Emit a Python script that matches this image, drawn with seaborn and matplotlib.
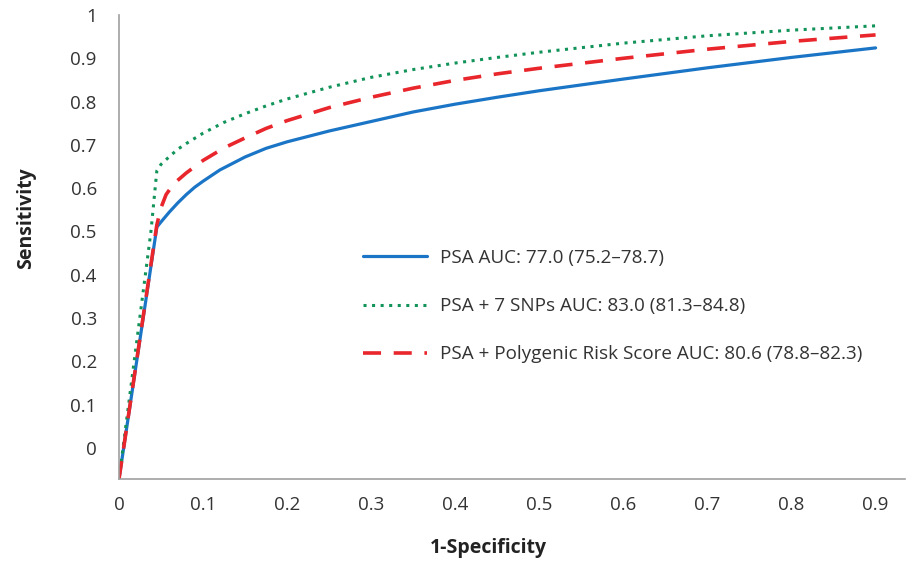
"""
ROC curves: PSA vs PSA + 7 SNPs vs PSA + Polygenic Risk Score
"""

import numpy as np
import pandas as pd
import matplotlib
matplotlib.use('Agg')
import matplotlib.pyplot as plt
import seaborn as sns

# ============================================================================
# DATA
# ============================================================================
psa_fpr = [0, 0.045, 0.05, 0.06, 0.07, 0.08, 0.09, 0.1, 0.12, 0.15, 0.175, 0.2, 0.25,
           0.3, 0.35, 0.4, 0.45, 0.5, 0.6, 0.7, 0.8, 0.9]
psa_tpr = [-0.072, 0.51, 0.522, 0.545, 0.566, 0.585, 0.602, 0.616, 0.642, 0.672, 0.692,
           0.707, 0.732, 0.754, 0.776, 0.794, 0.81, 0.825, 0.852, 0.878, 0.902, 0.924]

snp_fpr = [0, 0.038, 0.045, 0.05, 0.06, 0.07, 0.08, 0.1, 0.125, 0.15, 0.175, 0.2, 0.25,
           0.3, 0.35, 0.4, 0.45, 0.5, 0.6, 0.7, 0.8, 0.9]
snp_tpr = [-0.072, 0.50, 0.64, 0.655, 0.673, 0.69, 0.703, 0.727, 0.752, 0.772, 0.79,
           0.806, 0.833, 0.856, 0.874, 0.889, 0.902, 0.914, 0.935, 0.952, 0.965, 0.975]

prs_fpr = [0, 0.045, 0.05, 0.056, 0.065, 0.08, 0.1, 0.125, 0.15, 0.175, 0.2, 0.25, 0.3,
           0.35, 0.4, 0.45, 0.5, 0.6, 0.7, 0.8, 0.9]
prs_tpr = [-0.072, 0.515, 0.555, 0.585, 0.61, 0.635, 0.664, 0.693, 0.716, 0.738, 0.756,
           0.786, 0.81, 0.831, 0.849, 0.864, 0.877, 0.9, 0.921, 0.939, 0.954]

labels = ['PSA AUC: 77.0 (75.2\u201378.7)',
          'PSA + 7 SNPs AUC: 83.0 (81.3\u201384.8)',
          'PSA + Polygenic Risk Score AUC: 80.6 (78.8\u201382.3)']

x_ticks = [0, 0.1, 0.2, 0.3, 0.4, 0.5, 0.6, 0.7, 0.8, 0.9]
y_ticks = [0, 0.1, 0.2, 0.3, 0.4, 0.5, 0.6, 0.7, 0.8, 0.9, 1.0]
x_ticklabels = ['0', '0.1', '0.2', '0.3', '0.4', '0.5', '0.6', '0.7', '0.8', '0.9']
y_ticklabels = ['0', '0.1', '0.2', '0.3', '0.4', '0.5', '0.6', '0.7', '0.8', '0.9', '1']

# ============================================================================
# STYLE
# ============================================================================
sns.set_style('white')
plt.rcParams['font.family'] = ['Open Sans', 'DejaVu Sans']

blue = '#1b75c6'
green = '#12935a'
red = '#e8262c'
spine_gray = '#a0a0a0'
text_gray = '#333333'

# ============================================================================
# PLOT
# ============================================================================
fig = plt.figure(figsize=(9.07, 5.62), dpi=100)
ax = fig.add_axes([119 / 907, 1 - 479 / 562, (905 - 119) / 907, (479 - 15) / 562])

sns.lineplot(x=psa_fpr, y=psa_tpr, ax=ax, color=blue, linewidth=2.3,
             linestyle='-', label=labels[0], sort=False)
sns.lineplot(x=snp_fpr, y=snp_tpr, ax=ax, color=green, linewidth=2.2,
             linestyle=(0, (1, 1.8)), label=labels[1], sort=False)
sns.lineplot(x=prs_fpr, y=prs_tpr, ax=ax, color=red, linewidth=2.6,
             linestyle=(0, (5, 3.5)), label=labels[2], sort=False)

ax.set_xlim(0, 0.935)
ax.set_ylim(-0.072, 1.0)
ax.set_xticks(x_ticks)
ax.set_xticklabels(x_ticklabels)
ax.set_yticks(y_ticks)
ax.set_yticklabels(y_ticklabels)

for side in ['top', 'right']:
    ax.spines[side].set_visible(False)
for side in ['left', 'bottom']:
    ax.spines[side].set_color(spine_gray)
    ax.spines[side].set_linewidth(1.2)

ax.tick_params(axis='both', direction='in', length=5, width=1, color=spine_gray,
               labelsize=13.5, labelcolor=text_gray)
ax.tick_params(axis='y', pad=16)
ax.tick_params(axis='x', pad=12)

ax.set_xlabel('1-Specificity', fontsize=14, fontweight='bold', color='#222222')
ax.set_ylabel('Sensitivity', fontsize=14, fontweight='bold', color='#222222')
ax.xaxis.set_label_coords((488 - 119) / (905 - 119), -(548 - 479) / (479 - 15))
ax.yaxis.set_label_coords(-(119 - 26) / (905 - 119), (479 - 218) / (479 - 15))
ax.xaxis.label.set_va('center')
ax.yaxis.label.set_va('center')

leg = ax.legend(loc='upper left', bbox_to_anchor=(363 / 907, 1 - 249 / 562),
                bbox_transform=fig.transFigure, frameon=False, fontsize=13.6,
                handlelength=3.4, handletextpad=0.65, labelspacing=1.6,
                borderpad=0, borderaxespad=0)
for t in leg.get_texts():
    t.set_color(text_gray)

fig.savefig('out.png', dpi=100)
plt.close(fig)
print('saved out.png')
